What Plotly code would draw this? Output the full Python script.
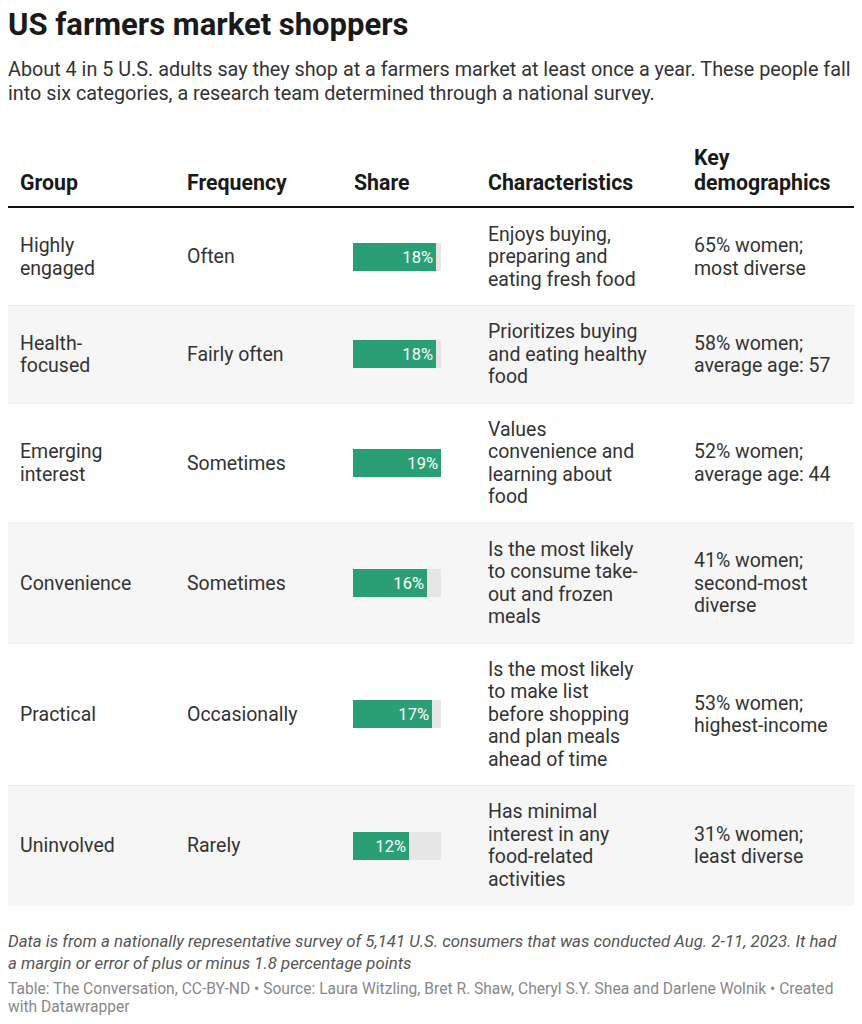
import plotly.graph_objects as go

# ---- data ----
groups = ["Highly<br>engaged", "Health-<br>focused", "Emerging<br>interest",
          "Convenience", "Practical", "Uninvolved"]
frequency = ["Often", "Fairly often", "Sometimes", "Sometimes", "Occasionally", "Rarely"]
share = [18, 18, 19, 16, 17, 12]
characteristics = [
    "Enjoys buying,<br>preparing and<br>eating fresh food",
    "Prioritizes buying<br>and eating healthy<br>food",
    "Values<br>convenience and<br>learning about<br>food",
    "Is the most likely<br>to consume take-<br>out and frozen<br>meals",
    "Is the most likely<br>to make list<br>before shopping<br>and plan meals<br>ahead of time",
    "Has minimal<br>interest in any<br>food-related<br>activities",
]
demographics = [
    "65% women;<br>most diverse",
    "58% women;<br>average age: 57",
    "52% women;<br>average age: 44",
    "41% women;<br>second-most<br>diverse",
    "53% women;<br>highest-income",
    "31% women;<br>least diverse",
]
headers = ["Group", "Frequency", "Share", "Characteristics", "Key<br>demographics"]

title = "US farmers market shoppers"
subtitle = ("About 4 in 5 U.S. adults say they shop at a farmers market at least once a year. These people fall<br>"
            "into six categories, a research team determined through a national survey.")
note = ("Data is from a nationally representative survey of 5,141 U.S. consumers that was conducted Aug. 2-11, 2023. It had<br>"
        "a margin or error of plus or minus 1.8 percentage points")
source = ("Table: The Conversation, CC-BY-ND • Source: Laura Witzling, Bret R. Shaw, Cheryl S.Y. Shea and Darlene Wolnik • Created<br>"
          "with Datawrapper")

# ---- layout constants (page pixels; the page body adds an 8px margin) ----
OFF = 8
W, H = 862 - OFF, 1024 - OFF
FONT = "Roboto"
TEXT = "#333333"
GREEN = "#2a9f75"
TRACK = "#e6e6e6"
STRIPE = "#f6f6f6"
left, right = 7, 855
col_x = [19, 186, 353, 487, 693]
bar_x0, bar_x1 = 353, 441
table_top = 208
line_h, pad = 22.5, 30


def px(x):
    return (x - OFF) / W


def py(y):
    return y - OFF


# row heights from the number of text lines in each row
row_tops, row_mids = [], []
y = table_top
for i in range(len(groups)):
    n = max(c.count("<br>") + 1 for c in (groups[i], frequency[i], characteristics[i], demographics[i]))
    h = n * line_h + pad
    row_tops.append((y, y + h))
    row_mids.append(y + h / 2)
    y += h

bar_y = [py(m) for m in row_mids]

fig = go.Figure()

# track behind each bar
fig.add_trace(go.Bar(
    x=[max(share)] * len(share), y=bar_y, orientation="h",
    marker=dict(color=TRACK, line=dict(width=0)), width=28,
    hoverinfo="skip", showlegend=False,
))
fig.add_trace(go.Bar(
    x=share, y=bar_y, orientation="h",
    marker=dict(color=GREEN, line=dict(width=0)), width=28,
    texttemplate="%{x}%", textposition="inside", insidetextanchor="end",
    textfont=dict(family=FONT, size=16.5, color="white"),
    hoverinfo="skip", showlegend=False,
))

shapes = []
for i, (t0, t1) in enumerate(row_tops):
    if i % 2 == 1:
        shapes.append(dict(type="rect", xref="paper", yref="y", x0=px(left), x1=px(right),
                           y0=py(t0), y1=py(t1), fillcolor=STRIPE, line=dict(width=0), layer="below"))
    if i > 0:
        shapes.append(dict(type="line", xref="paper", yref="y", x0=px(left), x1=px(right),
                           y0=py(t0), y1=py(t0), line=dict(color="#e8e8e8", width=1), layer="below"))
shapes.append(dict(type="line", xref="paper", yref="y", x0=px(left), x1=px(right),
                   y0=py(table_top - 1), y1=py(table_top - 1), line=dict(color="#111111", width=2)))

ann = []


def text(x, y, s, size=19.5, color=TEXT, spacing=22.5, anchor="middle", bold=False, italic=False):
    # one annotation per line so the line spacing can be set exactly
    parts = s.split("<br>")
    if anchor == "middle":
        y0 = y - spacing * (len(parts) - 1) / 2
    else:  # y is the centre of the last line
        y0 = y - spacing * (len(parts) - 1)
    for k, line in enumerate(parts):
        if bold:
            line = "<b>" + line + "</b>"
        if italic:
            line = "<i>" + line + "</i>"
        ann.append(dict(xref="paper", yref="y", x=px(x), y=py(y0 + k * spacing), text=line,
                        showarrow=False, xanchor="left", yanchor="middle", align="left",
                        font=dict(family=FONT, size=size, color=color)))


text(left - 1, 24, title, size=31, color="#1a1a1a", bold=True)
text(left - 1, 81, subtitle, size=19.8, spacing=24)

for x, h in zip(col_x, headers):
    text(x - 1, 182, h, size=21.3, color="#1a1a1a", spacing=25, anchor="last", bold=True)

for i, mid in enumerate(row_mids):
    text(col_x[0] - 1, mid, groups[i])
    text(col_x[1] - 1, mid, frequency[i])
    text(col_x[3] - 1, mid, characteristics[i])
    text(col_x[4] - 1, mid, demographics[i])

text(left - 1, 952, note, size=16.8, color="#555555", spacing=22, italic=True)
text(left - 1, 998, source, size=15.6, color="#888888", spacing=18)

fig.update_layout(
    width=W, height=H, margin=dict(l=0, r=0, t=0, b=0),
    paper_bgcolor="white", plot_bgcolor="rgba(0,0,0,0)",
    barmode="overlay", bargap=0,
    xaxis=dict(domain=[px(bar_x0), px(bar_x1)], range=[0, max(share)],
               visible=False, fixedrange=True),
    yaxis=dict(domain=[0, 1], range=[H, 0], visible=False, fixedrange=True),
    shapes=shapes, annotations=ann,
    uniformtext=dict(minsize=16, mode="show"),
)

fig.write_html("out.html")
